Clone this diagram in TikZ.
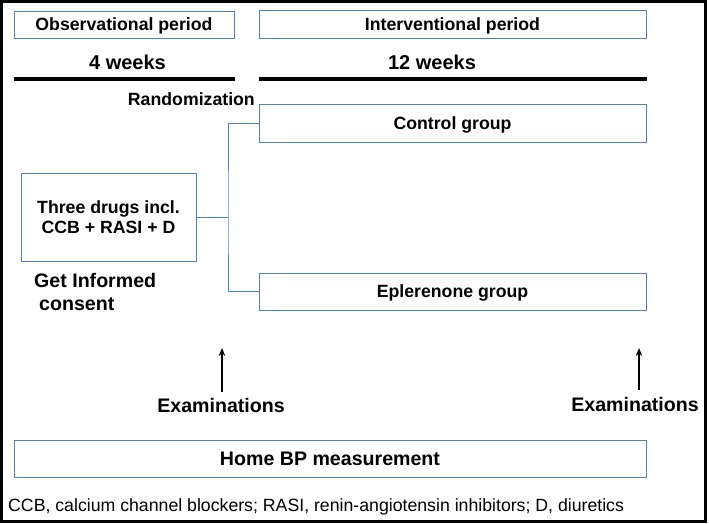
\documentclass[tikz,border=0pt]{standalone}
\usepackage{fontspec}
\setmainfont{Liberation Sans}
\usetikzlibrary{arrows.meta}
\definecolor{boxblue}{RGB}{79,129,189}
\begin{document}
\begin{tikzpicture}[x=1pt,y=-1pt,
  box/.style={draw=boxblue, line width=1pt, inner sep=0pt, align=center,
              font=\fontsize{17.7}{20}\selectfont\bfseries},
  capbox/.style={box, text height=12.7pt, text depth=0pt},
  bigbox/.style={box, font=\fontsize{19.6}{23}\selectfont\bfseries, text height=14pt, text depth=0pt},
  lbl/.style={inner sep=0pt, font=\fontsize{19.6}{23}\selectfont\bfseries},
  smlbl/.style={inner sep=0pt, font=\fontsize{17.7}{20}\selectfont\bfseries},
  wklbl/.style={inner sep=0pt, font=\fontsize{20}{24}\selectfont\bfseries},
  conn/.style={draw=boxblue, line width=1pt},
  rulebar/.style={line width=4pt},
  arr/.style={-{Stealth[length=8pt,width=6.5pt]}, line width=1.4pt}]
\useasboundingbox (0,0) rectangle (709,523);
\draw[line width=3pt] (1.5,1.5) rectangle (705,521.5);

% period headers
\node[capbox, minimum width=220, minimum height=27] (obs) at (124,24.5) {Observational period};
\node[capbox, minimum width=387, minimum height=28] (int) at (452.5,24) {Interventional period};

% durations
\node[wklbl, anchor=base] (w4) at (127.5,69) {4 weeks};
\node[wklbl, anchor=base] (w12) at (432,69) {12 weeks};
\draw[rulebar] (obs.west |- 0,79) -- (obs.east |- 0,79);
\draw[rulebar] (int.west |- 0,79) -- (int.east |- 0,79);

% randomization
\node[smlbl, anchor=base east] (rand) at (255,105) {Randomization};

% groups
\node[capbox, minimum width=387, minimum height=38] (ctrl) at (452.5,123) {Control group};
\node[capbox, minimum width=387, minimum height=37] (epl) at (452.5,291.5) {Eplerenone group};
\node[box, minimum width=175, minimum height=88] (drugs) at (108.5,217) {Three drugs incl.\\CCB + RASI + D};

\coordinate (split) at (228,217);
\draw[conn] (drugs.east) -- (split);
\draw[conn] (ctrl.west) -| (split) |- (epl.west);

% consent
\node[lbl, anchor=north west, align=left] (consent) at (34,272.7) {Get Informed\\\hspace*{5pt}consent};

% examinations
\node[lbl, anchor=base] (ex1) at (221,412) {Examinations};
\node[lbl, anchor=base] (ex2) at (635,411) {Examinations};
\coordinate (b1) at (222,392);
\coordinate (t1) at (222,348);
\coordinate (b2) at (639,390);
\coordinate (t2) at (639,348);
\draw[arr] (b1) -- (t1);
\draw[arr] (b2) -- (t2);

% home BP
\node[bigbox, minimum width=632, minimum height=37] (home) at (330,458.5) {Home BP measurement};

% footnote
\node[inner sep=0pt, anchor=base west, font=\fontsize{17.7}{20}\selectfont] (note) at (8,511)
  {CCB, calcium channel blockers; RASI, renin-angiotensin inhibitors; D, diuretics};
\end{tikzpicture}
\end{document}
